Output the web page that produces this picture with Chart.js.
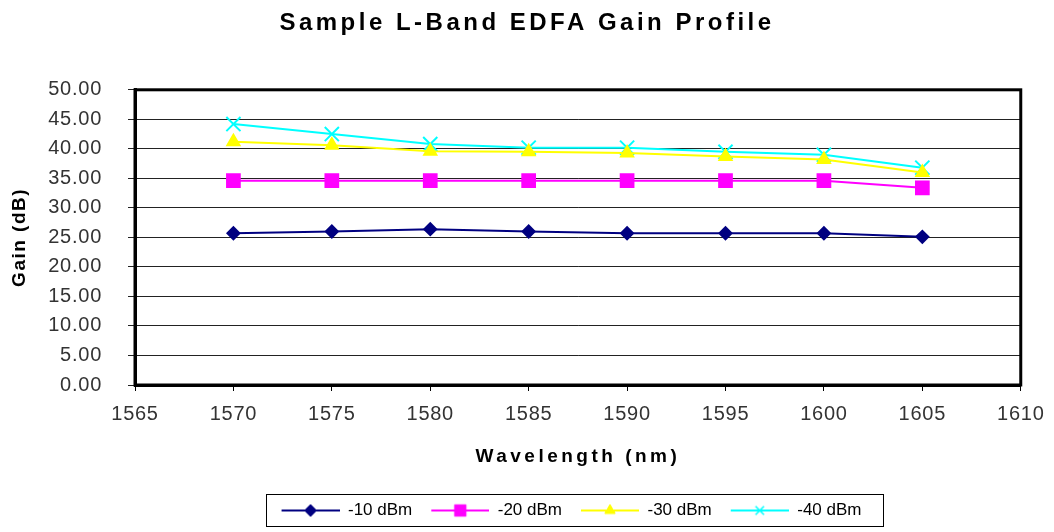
<!DOCTYPE html>
<html>
<head>
<meta charset="utf-8">
<script src="https://cdn.jsdelivr.net/npm/chart.js@4.4.1/dist/chart.umd.min.js"></script>
<style>
  body { margin: 0; background: #fff; }
</style>
</head>
<body>
<canvas id="myChart" width="1054" height="532"></canvas>
<script>
// data
var wavelengths = [1570, 1575, 1580, 1585, 1590, 1595, 1600, 1605];
var gain10 = [25.7, 26.0, 26.4, 26.0, 25.7, 25.7, 25.7, 25.1];
var gain20 = [34.6, 34.6, 34.6, 34.6, 34.6, 34.6, 34.6, 33.4];
var gain30 = [41.2, 40.6, 39.6, 39.5, 39.3, 38.7, 38.2, 36.0];
var gain40 = [44.2, 42.5, 40.8, 40.2, 40.2, 39.5, 39.0, 36.8];
var seriesNames = ['-10 dBm', '-20 dBm', '-30 dBm', '-40 dBm'];

function pts(vals) {
    return vals.map(function (v, i) { return { x: wavelengths[i], y: v }; });
}

function spaced(obj, name, sp, dx) {
    if (obj['_sp_' + name]) return;
    var orig = obj[name];
    obj[name] = function () {
        var c = this.ctx;
        c.save();
        c.letterSpacing = sp;
        if (dx) c.translate(dx, 0);
        orig.apply(this, arguments);
        c.restore();
    };
    obj['_sp_' + name] = true;
}

// legend sample: short line with the marker in the middle
function legendImage(ds) {
    var cv = document.createElement('canvas');
    cv.width = 67;
    cv.height = 18;
    var c = cv.getContext('2d');
    c.strokeStyle = ds.borderColor;
    c.lineWidth = 2;
    c.beginPath();
    c.moveTo(9, 9);
    c.lineTo(67, 9);
    c.stroke();
    c.fillStyle = ds.pointBackgroundColor;
    c.strokeStyle = ds.pointBorderColor;
    c.lineWidth = ds.pointStyle === 'crossRot' ? 1.5 : 1;
    Chart.helpers.drawPoint(c, { pointStyle: ds.pointStyle, radius: ds.pointStyle === 'rect' ? 8 : 6, rotation: 0, borderWidth: c.lineWidth }, 38, 9);
    return cv;
}

var frame = {
    id: 'frame',
    afterLayout: function (chart) {
        var lg = chart.legend;
        var shift = 567 - (lg.left + lg.right) / 2;
        lg.left += shift;
        lg.right += shift;
    },
    beforeDraw: function (chart) {
        spaced(chart.titleBlock, 'draw', '3.5px', 15);
        spaced(chart.scales.x, 'drawTitle', '3.5px');
        spaced(chart.scales.y, 'drawTitle', '1.5px');
        spaced(chart.scales.x, 'drawLabels', '0.75px');
        spaced(chart.scales.y, 'drawLabels', '0.75px');
    },
    beforeDatasetsDraw: function (chart) {
        var a = chart.chartArea, c = chart.ctx;
        c.save();
        c.strokeStyle = '#000';
        c.lineWidth = 3;
        c.strokeRect(a.left, a.top, a.right - a.left, a.bottom - a.top);
        c.restore();
    },
    afterDraw: function (chart) {
        var boxes = chart.legend.legendHitBoxes;
        if (!boxes || !boxes.length) return;
        var l = boxes[0].left, r = boxes[boxes.length - 1].left + boxes[boxes.length - 1].width + 8;
        var t = boxes[0].top, h = boxes[0].height;
        var c = chart.ctx;
        c.save();
        c.strokeStyle = '#000';
        c.lineWidth = 1;
        c.strokeRect(Math.round(l) - 6.5, Math.round(t) - 7.5, Math.round(r - l) + 20, h + 15);
        c.restore();
    }
};

var ctx = document.getElementById('myChart').getContext('2d');
var myChart = new Chart(ctx, {
    type: 'line',
    data: {
        datasets: [{
            label: seriesNames[0],
            data: pts(gain10),
            borderColor: '#000080',
            pointBackgroundColor: '#000080',
            pointBorderColor: '#000080',
            pointStyle: 'rectRot',
            pointRadius: 6,
            borderWidth: 2
        }, {
            label: seriesNames[1],
            data: pts(gain20),
            borderColor: '#ff00ff',
            pointBackgroundColor: '#ff00ff',
            pointBorderColor: '#ff00ff',
            pointStyle: 'rect',
            pointRadius: 9,
            borderWidth: 2
        }, {
            label: seriesNames[2],
            data: pts(gain30),
            borderColor: '#ffff00',
            pointBackgroundColor: '#ffff00',
            pointBorderColor: '#ffff00',
            pointStyle: 'triangle',
            pointRadius: 7,
            borderWidth: 2
        }, {
            label: seriesNames[3],
            data: pts(gain40),
            borderColor: '#00ffff',
            pointBackgroundColor: '#00ffff',
            pointBorderColor: '#00ffff',
            pointStyle: 'crossRot',
            pointRadius: 10,
            pointBorderWidth: 2,
            borderWidth: 2
        }]
    },
    options: {
        responsive: false,
        animation: false,
        layout: { padding: { top: 0, left: 0, right: 30, bottom: 3 } },
        plugins: {
            tooltip: { enabled: false },
            title: {
                display: true,
                text: 'Sample L-Band EDFA Gain Profile',
                color: '#000',
                font: { family: 'Liberation Sans, Arial', size: 24, weight: 'bold' },
                padding: { top: 9, bottom: 52 }
            },
            legend: {
                position: 'bottom',
                labels: {
                    color: '#000',
                    font: { family: 'Liberation Sans, Arial', size: 17 },
                    usePointStyle: true,
                    pointStyleWidth: 67,
                    boxHeight: 17,
                    padding: 10,
                    generateLabels: function (chart) {
                        var items = Chart.defaults.plugins.legend.labels.generateLabels(chart);
                        items.forEach(function (it) {
                            it.pointStyle = legendImage(chart.data.datasets[it.datasetIndex]);
                        });
                        return items;
                    }
                }
            }
        },
        scales: {
            x: {
                type: 'linear',
                min: 1565,
                max: 1610,
                afterFit: function (s) { s.height = 107; },
                ticks: {
                    stepSize: 5,
                    color: '#333',
                    padding: 11,
                    font: { family: 'Liberation Sans, Arial', size: 20 },
                    callback: function (v) { return String(v); }
                },
                grid: { drawOnChartArea: false, drawTicks: true, tickLength: 6, color: '#000', lineWidth: 1 },
                border: { display: true, color: '#000', width: 3 },
                title: {
                    display: true,
                    text: 'Wavelength (nm)',
                    color: '#000',
                    font: { family: 'Liberation Sans, Arial', size: 19, weight: 'bold' },
                    padding: { top: 0, bottom: 24 }
                }
            },
            y: {
                min: 0,
                max: 50,
                afterFit: function (s) { s.width = 135; },
                ticks: {
                    stepSize: 5,
                    color: '#333',
                    padding: 26,
                    font: { family: 'Liberation Sans, Arial', size: 20 },
                    callback: function (v) { return v.toFixed(2); }
                },
                grid: { color: '#222', lineWidth: 1, drawTicks: true, tickLength: 7 },
                border: { display: true, color: '#000', width: 3 },
                title: {
                    display: true,
                    text: 'Gain (dB)',
                    color: '#000',
                    font: { family: 'Liberation Sans, Arial', size: 19, weight: 'bold' },
                    padding: { top: 8, bottom: 0 }
                }
            }
        }
    },
    plugins: [frame]
});
</script>
</body>
</html>
